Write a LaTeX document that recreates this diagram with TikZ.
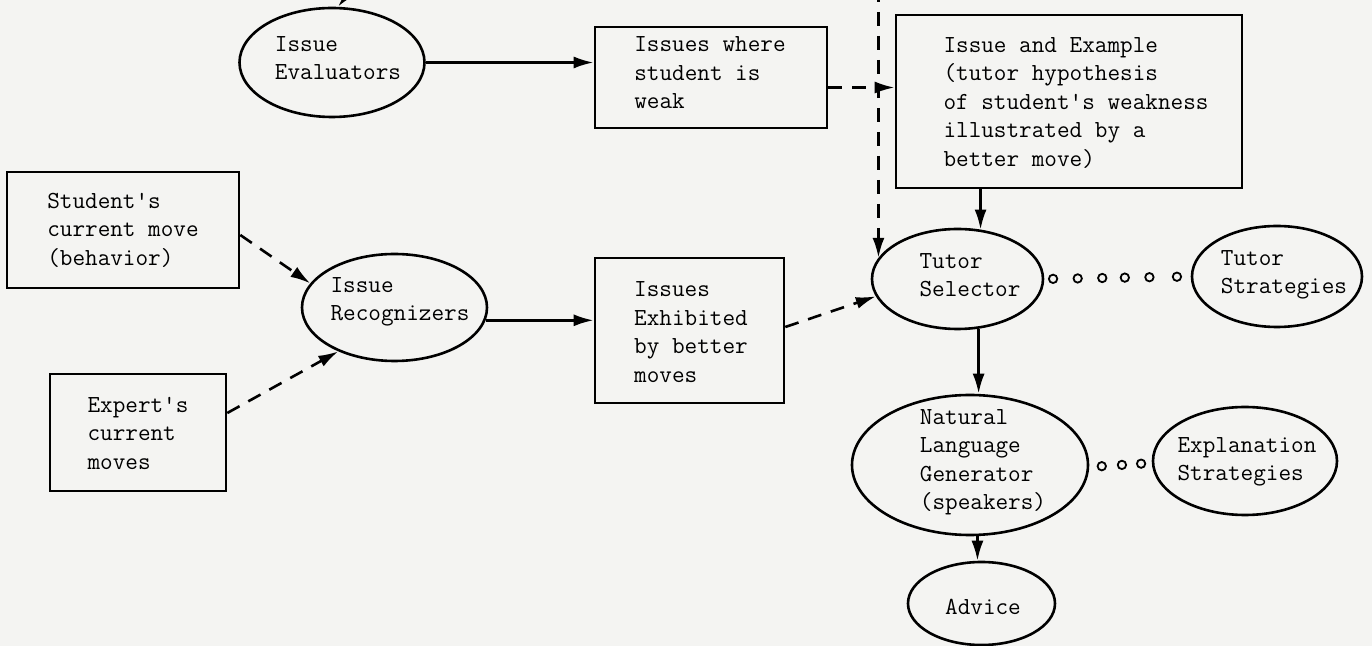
\documentclass[tikz,border=0pt]{standalone}
\usepackage{fontspec}
\usetikzlibrary{arrows.meta,shapes.geometric}
\definecolor{paper}{RGB}{244,244,242}
\newcommand{\twtext}{\ttfamily\addfontfeature{LetterSpace=5.5,FakeBold=1.2}\fontsize{12.25}{14.25}\selectfont}
\begin{document}
\begin{tikzpicture}[x=0.5pt,y=-0.5pt,
  shp/.style={draw=black, line width=1.3pt, inner sep=0pt},
  ell/.style={shp, ellipse},
  boxn/.style={shp, rectangle},
  txt/.style={align=left, inner sep=0pt, font=\twtext},
  conn/.style={line width=1.3pt, -{Latex[length=10pt,width=6pt]}},
  dashln/.style={conn, dash pattern=on 7pt off 5pt},
  dotc/.style={circle, draw=black, line width=0.9pt, minimum size=4.2pt, inner sep=0pt, fill=paper},
]
\useasboundingbox (0,0) rectangle (1372,646);
\fill[paper] (0,0) rectangle (1372,646);

% shapes
\node[ell, minimum width=92.5pt, minimum height=54.5pt] (ev) at (332,62.5) {};
\node[boxn, minimum width=116pt, minimum height=50.5pt] (weak) at (711,77.5) {};
\node[boxn, minimum width=173pt, minimum height=86.5pt] (ex) at (1069,101.5) {};
\node[boxn, minimum width=116pt, minimum height=58pt] (stu) at (123,230) {};
\node[boxn, minimum width=88pt, minimum height=58.5pt] (expt) at (138,432.5) {};
\node[ell, minimum width=92.5pt, minimum height=53.5pt] (rec) at (394.5,307.5) {};
\node[boxn, minimum width=94.5pt, minimum height=72.5pt] (exh) at (689.5,330.5) {};
\node[ell, minimum width=85.5pt, minimum height=50pt] (te) at (957.5,279) {};
\node[ell, minimum width=85pt, minimum height=50.5pt] (ts) at (1277,276.5) {};
\node[ell, minimum width=118pt, minimum height=70pt] (nlg) at (970,465) {};
\node[ell, minimum width=92pt, minimum height=54pt] (ex2) at (1245,461) {};
\node[ell, minimum width=73.5pt, minimum height=41.5pt] (adv) at (981.5,603.5) {};

% texts
\node[txt] (tev) at (338,58) {Issue\\Evaluators};
\node[txt] (tweak) at (710,73) {Issues where\\student is\\weak};
\node[txt] (tex) at (1076,103) {Issue and Example\\(tutor hypothesis\\of student's weakness\\illustrated by a\\better move)};
\node[txt] (tstu) at (123,230) {Student's\\current move\\(behavior)};
\node[txt] (texpt) at (138,433) {Expert's\\current\\moves};
\node[txt] (trec) at (400,302) {Issue\\Recognizers};
\node[txt] (texh) at (691,332) {Issues\\Exhibited\\by better\\moves};
\node[txt] (tte) at (970,275) {Tutor\\Selector};
\node[txt] (tts) at (1284,275) {Tutor\\Strategies};
\node[txt] (tnlg) at (983,462) {Natural\\Language\\Generator\\(speakers)};
\node[txt] (tex2) at (1247,462) {Explanation\\Strategies};
\node[txt] (tadv) at (983,607) {Advice};

% connectors
\coordinate (topin) at (368,-30);
\draw[conn] (topin) -- ([xshift=3pt]ev.north);
\draw[conn] (ev.east) -- (ev.east -| weak.west);

\coordinate (wk) at ([yshift=-5pt]weak.east);
\draw[dashln] (wk) -- (wk -| ex.west);

\coordinate (vtop) at (878,-12);
\draw[dashln] (te.165 |- vtop) -- (te.165);

\draw[conn] (te.65.5 |- ex.south) -- (te.65.5);

\coordinate (s1) at ([yshift=-2.5pt]stu.east);
\draw[dashln] (s1) -- (rec.164);
\coordinate (e1) at ([yshift=9.75pt]expt.east);
\draw[dashln] (e1) -- (rec.218);

\draw[conn] (rec.-8) -- (rec.-8 -| exh.west);

\coordinate (x1) at ([yshift=1.75pt]exh.east);
\draw[dashln] (x1) -- (te.192);

\draw[conn] (te.-67) -- (te.-67 |- nlg.north);
\draw[conn] (nlg.-84) -- (nlg.-84 |- adv.north);

% dotted links
\path (te.east) -- (ts.west)
  node[dotc, pos=0.06] (d1) {}
  node[dotc, pos=0.228] (d2) {}
  node[dotc, pos=0.396] (d3) {}
  node[dotc, pos=0.55] (d4) {}
  node[dotc, pos=0.718] (d5) {}
  node[dotc, pos=0.906] (d6) {};
\path ([yshift=-1pt]nlg.east) -- ([yshift=-1pt]ex2.west)
  node[dotc, pos=0.2] (f1) {}
  node[dotc, pos=0.523] (f2) {}
  node[dotc, pos=0.83] (f3) {};
\end{tikzpicture}
\end{document}
